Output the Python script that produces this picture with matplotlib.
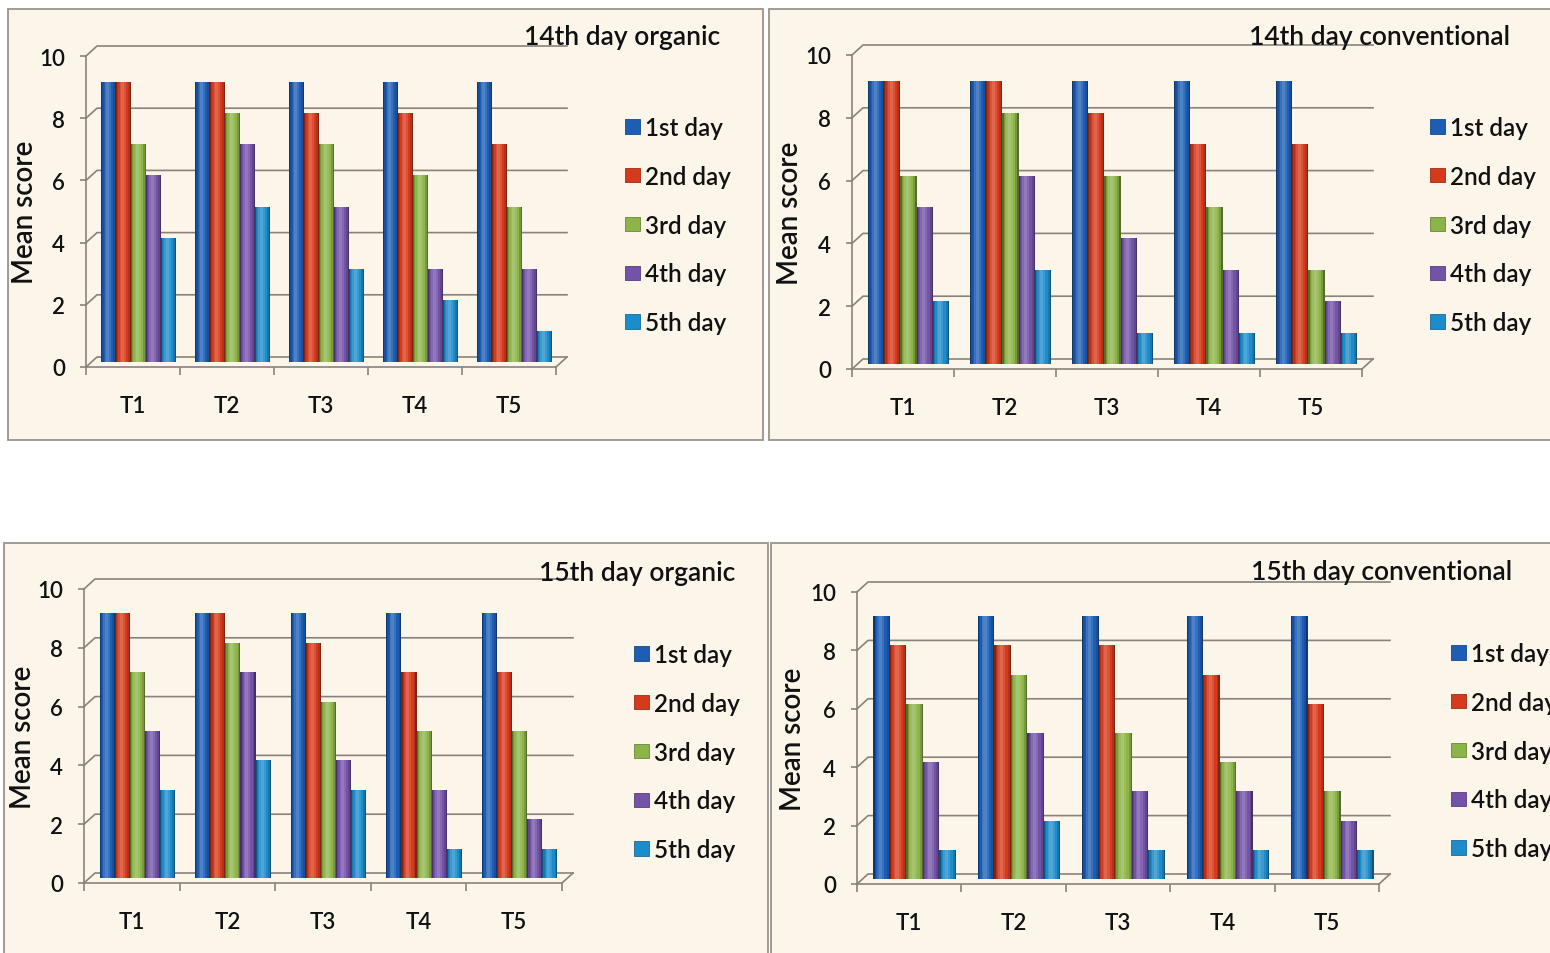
import matplotlib
matplotlib.use("Agg")
import matplotlib.pyplot as plt
import numpy as np
from matplotlib.colors import to_rgb
from matplotlib.patches import Patch, Rectangle

W, H = 1550, 954
plt.rcParams["font.family"] = ["Lato", "DejaVu Sans"]
plt.rcParams["font.weight"] = "semibold"
plt.rcParams["axes.labelweight"] = "semibold"

treatments = ["T1", "T2", "T3", "T4", "T5"]
days = ["1st day", "2nd day", "3rd day", "4th day", "5th day"]
day_colors = ["#1d5eb4", "#d53a1c", "#8db449", "#7353a8", "#1d8ccb"]

# rows: treatment, columns: day
organic_14 = [
    [9, 9, 7, 6, 4],
    [9, 9, 8, 7, 5],
    [9, 8, 7, 5, 3],
    [9, 8, 6, 3, 2],
    [9, 7, 5, 3, 1],
]
conventional_14 = [
    [9, 9, 6, 5, 2],
    [9, 9, 8, 6, 3],
    [9, 8, 6, 4, 1],
    [9, 7, 5, 3, 1],
    [9, 7, 3, 2, 1],
]
organic_15 = [
    [9, 9, 7, 5, 3],
    [9, 9, 8, 7, 4],
    [9, 8, 6, 4, 3],
    [9, 7, 5, 3, 1],
    [9, 7, 5, 2, 1],
]
conventional_15 = [
    [9, 8, 6, 4, 1],
    [9, 8, 7, 5, 2],
    [9, 8, 5, 3, 1],
    [9, 7, 4, 3, 1],
    [9, 6, 3, 2, 1],
]
titles = ["14th day organic", "14th day conventional",
          "15th day organic", "15th day conventional"]
y_ticks = [0, 2, 4, 6, 8, 10]

# pixel layout (x, y from top-left): panel box, front plot frame, title, legend, y-label x
layout = [
    dict(box=(8, 10, 763, 441), frame=(86, 57, 556, 368), title=(720, 38), legend=(625, 117), ylab=38),
    dict(box=(769, 10, 1580, 441), frame=(852, 56, 1362, 370), title=(1510, 38), legend=(1430, 117), ylab=803),
    dict(box=(4, 544, 768, 990), frame=(84, 590, 562, 884), title=(735, 574), legend=(634, 644), ylab=36),
    dict(box=(771, 544, 1580, 990), frame=(857, 593, 1379, 885), title=(1512, 573), legend=(1451, 643), ylab=806),
]
datasets = [organic_14, conventional_14, organic_15, conventional_15]

DEPTH_X, DEPTH_Y = 11, 10       # back wall offset in pixels
LINE = "#8a817c"
TEXT = "#111111"
PANEL_BG = "#fcf6ea"
BAR_W = 0.158
# cylinder shading: (relative width, shift toward left, mix with black(-) / white(+))
SHADES = [(1.0, 0.0, -0.40), (0.86, 0.0, -0.15), (0.66, 0.02, 0.0),
          (0.42, 0.05, 0.12), (0.2, 0.07, 0.22)]


def blend(c, f):
    c = np.array(to_rgb(c))
    other = np.ones(3) if f > 0 else np.zeros(3)
    f = abs(f)
    return tuple(c * (1 - f) + other * f)


def draw_panel(fig, values, title, lay):
    bl, bt, br, bb = lay["box"]
    fig.patches.append(Rectangle((bl / W, 1 - bb / H), (br - bl) / W, (bb - bt) / H,
                                 transform=fig.transFigure, facecolor=PANEL_BG,
                                 edgecolor="#9a938e", linewidth=1.3, zorder=-5))

    l, t, r, b = lay["frame"]
    ax = fig.add_axes([l / W, 1 - b / H, (r - l) / W, (b - t) / H])
    ax.set_facecolor("none")
    ax.set_xlim(-0.5, len(treatments) - 0.5)
    ax.set_ylim(0, 10)

    dx = DEPTH_X * len(treatments) / (r - l)
    dy = DEPTH_Y * 10 / (b - t)
    x0, x1 = -0.5, len(treatments) - 0.5

    # side wall diagonals + back wall gridlines
    for v in y_ticks:
        ax.plot([x0, x0 + dx, x1 + dx], [v, v + dy, v + dy], color=LINE,
                lw=1.2, clip_on=False, zorder=1)
    # right edge of the floor
    ax.plot([x1, x1 + dx], [0, dy], color=LINE, lw=1.2, clip_on=False, zorder=1)

    vals = np.array(values, dtype=float)
    xs = np.arange(len(treatments))
    for j, color in enumerate(day_colors):
        xpos = xs + (j - 2) * BAR_W + dx / 2
        h = vals[:, j]
        for k, (wf, shift, mix) in enumerate(SHADES):
            ax.bar(xpos - shift * BAR_W, h, BAR_W * wf, bottom=dy / 2,
                   color=blend(color, mix), zorder=3 + k, clip_on=False)

    for side in ("top", "right"):
        ax.spines[side].set_visible(False)
    for side in ("left", "bottom"):
        ax.spines[side].set_color(LINE)
        ax.spines[side].set_linewidth(1.2)

    ax.set_yticks(y_ticks)
    ax.tick_params(axis="y", length=4, width=1.2, color=LINE, pad=11,
                   labelsize=16, labelcolor=TEXT)
    ax.set_xticks(np.arange(len(treatments) + 1) - 0.5)
    ax.set_xticklabels([])
    ax.set_xticks(xs, minor=True)
    ax.set_xticklabels(treatments, minor=True)
    ax.tick_params(axis="x", which="major", length=6, width=1.2, color=LINE)
    ax.tick_params(axis="x", which="minor", length=0, pad=20, labelsize=16,
                   labelcolor=TEXT)

    ax.set_ylabel("Mean score", fontsize=20, color=TEXT)
    ax.yaxis.set_label_coords((lay["ylab"] - l) / (r - l), 0.5)

    tx, ty = lay["title"]
    fig.text(tx / W, 1 - ty / H, title, ha="right", va="center",
             fontsize=19, color=TEXT)

    handles = [Patch(facecolor=c, edgecolor=blend(c, -0.25), linewidth=0.6)
               for c in day_colors]
    lx, ly = lay["legend"]
    fig.legend(handles, days, loc="upper left", bbox_to_anchor=(lx / W, 1 - ly / H),
               frameon=False, fontsize=17.5, handlelength=0.62, handleheight=0.53,
               handletextpad=0.22, labelspacing=1.06, borderpad=0, borderaxespad=0,
               labelcolor=TEXT)


fig = plt.figure(figsize=(W / 100, H / 100), dpi=100)
fig.patch.set_facecolor("white")
for values, title, lay in zip(datasets, titles, layout):
    draw_panel(fig, values, title, lay)

fig.savefig("out.png", dpi=100)
